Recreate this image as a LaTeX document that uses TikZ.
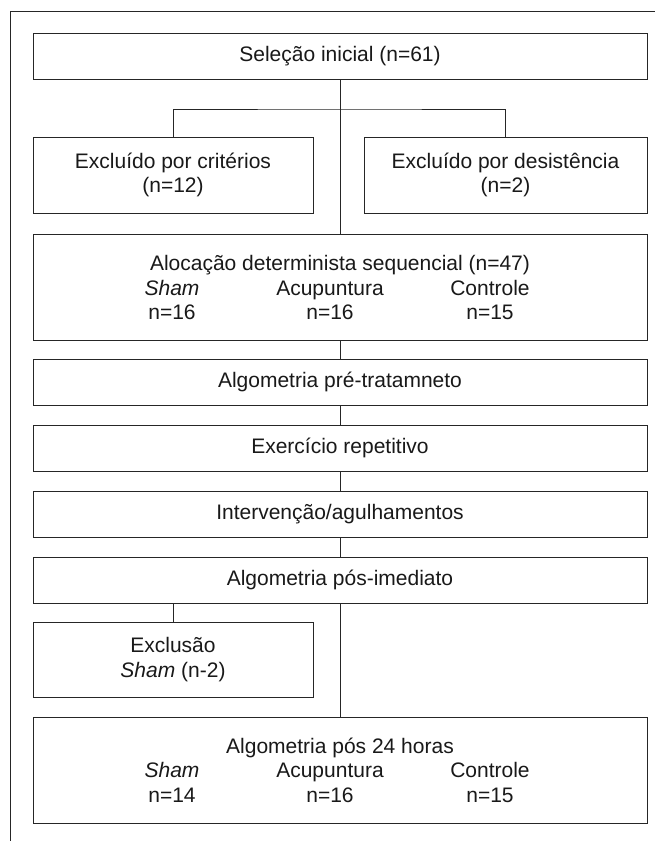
\documentclass[tikz,border=0pt]{standalone}
\usepackage{fontspec}
\setmainfont{Liberation Sans}
\usepackage{tikz}

\newcommand{\trio}[3]{\makebox[0pt]{\makebox[0pt]{#1}\hspace{158pt}\makebox[0pt]{#2}\hspace{160pt}\makebox[0pt]{#3}\hspace{18pt}}}

\begin{document}
\begin{tikzpicture}[x=1pt, y=-1pt, font=\fontsize{21}{24.5}\selectfont,
  Box/.style={draw=black!85, line width=0.9pt, fill=white, text=black!90, align=center, inner sep=0pt, minimum width=614pt, minimum height=46pt},
  Side/.style={Box, minimum width=280pt, minimum height=76pt},
  Link/.style={draw=black!85, line width=0.9pt}]

\useasboundingbox (0, 0) rectangle (655, 841);

\draw [Link] (10, 841) -- (10, 11) -- (655, 11);

\node [Box] (sel) at (340, 56) {Seleção inicial (n=61)};

\node [Side] (crit) at (173, 175) {Excluído por critérios\\(n=12)};
\node [Side, minimum width=283pt] (desist) at (505.5, 175) {Excluído por desistência\\(n=2)};

\node [Box, minimum height=106pt] (aloc) at (340, 287.5) {Alocação determinista sequencial (n=47)\\\trio{\textit{Sham}}{Acupuntura}{Controle}\\\trio{n=16}{n=16}{n=15}};

\foreach \pos/\name/\txt in {382/pre/Algometria pré-tratamneto, 448/exer/Exercício repetitivo, 514/interv/{Intervenção/agulhamentos}, 580/posimed/Algometria pós-imediato} {
  \node [Box] (\name) at (340, \pos) {\txt};
}

\node [Side, minimum height=75pt] (exclu) at (173, 659.5) {Exclusão\\\textit{Sham} (n-2)};

\node [Box, minimum height=106pt] (horas) at (340, 770) {Algometria pós 24 horas\\\trio{\textit{Sham}}{Acupuntura}{Controle}\\\trio{n=14}{n=16}{n=15}};

\coordinate (split) at (340, 109);

\draw [Link] (sel) -- (aloc);
\draw [Link] (crit.north) |- (split) -| (desist.north);
\foreach \a/\b in {aloc/pre, pre/exer, exer/interv, interv/posimed, posimed/horas} {
  \draw [Link] (\a) -- (\b);
}
\draw [Link] (posimed.south -| exclu.north) -- (exclu.north);
\end{tikzpicture}
\end{document}
